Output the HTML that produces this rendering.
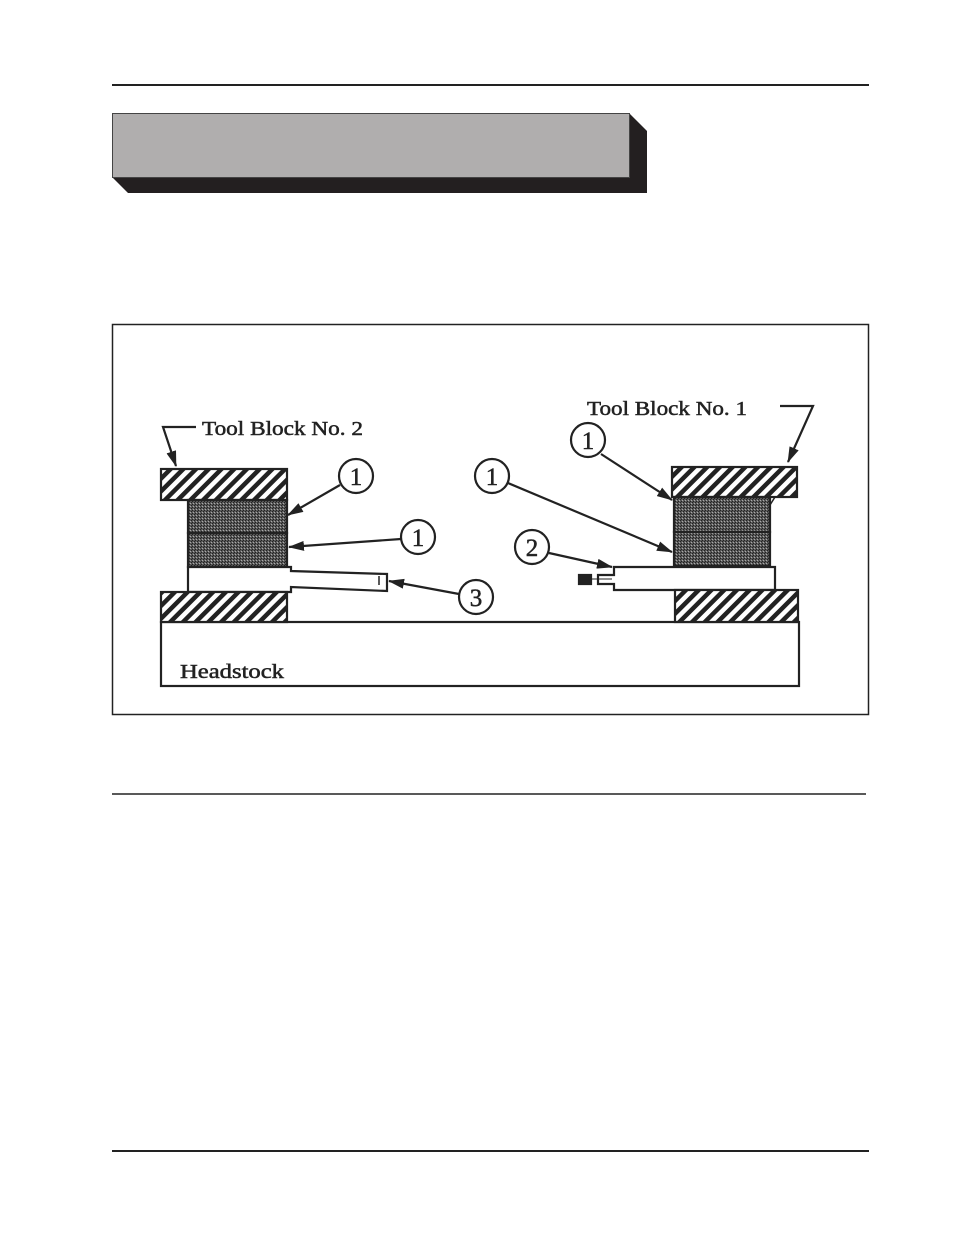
<!DOCTYPE html>
<html><head><meta charset="utf-8"><style>
html,body{margin:0;padding:0;background:#fff;}
svg{display:block;}
text{font-family:"Liberation Serif",serif;fill:#222;stroke:#222;stroke-width:0.5;}
</style></head><body>
<svg width="954" height="1235" viewBox="0 0 954 1235" xmlns="http://www.w3.org/2000/svg">
<defs>
<pattern id="h" width="9" height="9" patternUnits="userSpaceOnUse" patternTransform="rotate(45)">
<rect width="9" height="9" fill="#fff"/><rect width="4.5" height="9" fill="#222"/>
</pattern>
<pattern id="g" width="3" height="3" patternUnits="userSpaceOnUse">
<rect width="3" height="3" fill="#5a5a5a"/><rect width="1" height="1" fill="#222"/><rect x="2" y="1" width="1" height="1" fill="#222"/><rect x="1" y="2" width="1" height="1" fill="#aaa"/>
</pattern>
<marker id="a" markerWidth="16" markerHeight="10" refX="15" refY="5" orient="auto" markerUnits="userSpaceOnUse">
<path d="M0,0 L16,5 L0,10 Z" fill="#222"/>
</marker>
</defs>
<line x1="112" y1="85" x2="869" y2="85" stroke="#222" stroke-width="2"/>
<polygon points="629,113 647,131 647,193 128,193 112,177 629,177" fill="#231f20"/>
<rect x="112.5" y="113.5" width="517" height="64" fill="#b0aeae" stroke="#444" stroke-width="1"/>
<rect x="112.5" y="324.5" width="756" height="390" fill="none" stroke="#222" stroke-width="1.5"/>

<g stroke="#222" stroke-width="2.2">
<rect x="161" y="622" width="638" height="64" fill="#fff"/>
<rect x="161" y="469" width="126" height="31" fill="url(#h)"/>
<rect x="188" y="500" width="99" height="33" fill="url(#g)"/>
<rect x="188" y="533" width="99" height="34" fill="url(#g)"/>
<path d="M188,567 L291,567 L291,571 L387,574 L387,591 L291,587 L291,592 L188,592 Z" fill="#fff"/>
<line x1="379" y1="576" x2="379" y2="585" stroke-width="1.5"/>
<rect x="161" y="592" width="126" height="30" fill="url(#h)"/>
<rect x="672" y="467" width="125" height="30" fill="url(#h)"/>
<rect x="674" y="497" width="96" height="35" fill="url(#g)"/>
<rect x="674" y="532" width="96" height="34" fill="url(#g)"/>
<path d="M770,497 L775,497 L770,505" fill="none" stroke-width="1.5"/>
<path d="M614,567 L775,567 L775,590 L614,590 L614,584 L598,584 L598,575 L614,575 Z" fill="#fff"/>
<rect x="579" y="575" width="12" height="9" fill="#222"/>
<line x1="591" y1="579" x2="612" y2="579" stroke-width="1"/>
<rect x="675" y="590" width="123" height="32" fill="url(#h)"/>
</g>

<g stroke="#222" stroke-width="2.2" fill="none">
<path d="M196,427 L163,427 L176,466" marker-end="url(#a)"/>
<path d="M780,406 L813,406 L788,462" marker-end="url(#a)"/>
<line x1="340" y1="485" x2="288" y2="515" marker-end="url(#a)"/>
<line x1="401" y1="539" x2="289" y2="547" marker-end="url(#a)"/>
<line x1="459" y1="594" x2="389" y2="581" marker-end="url(#a)"/>
<line x1="508" y1="483" x2="672" y2="552" marker-end="url(#a)"/>
<line x1="601" y1="454" x2="672" y2="500" marker-end="url(#a)"/>
<line x1="549" y1="553" x2="612" y2="567" marker-end="url(#a)"/>
<circle cx="356" cy="476" r="17" fill="#fff"/>
<circle cx="418" cy="537" r="17" fill="#fff"/>
<circle cx="476" cy="597" r="17" fill="#fff"/>
<circle cx="492" cy="476" r="17" fill="#fff"/>
<circle cx="532" cy="547" r="17" fill="#fff"/>
<circle cx="588" cy="440" r="17" fill="#fff"/>
</g>
<g font-size="25" text-anchor="middle">
<text x="356" y="485">1</text>
<text x="418" y="546">1</text>
<text x="476" y="606">3</text>
<text x="492" y="485">1</text>
<text x="532" y="556">2</text>
<text x="588" y="449">1</text>
</g>
<text x="202" y="435" font-size="20" textLength="161" lengthAdjust="spacingAndGlyphs">Tool Block No. 2</text>
<text x="587" y="415" font-size="20" textLength="160" lengthAdjust="spacingAndGlyphs">Tool Block No. 1</text>
<text x="180" y="678" font-size="20" textLength="104" lengthAdjust="spacingAndGlyphs">Headstock</text>

<line x1="112" y1="794" x2="866" y2="794" stroke="#222" stroke-width="1.5"/>
<line x1="112" y1="1151" x2="869" y2="1151" stroke="#222" stroke-width="2"/>
</svg>
</body></html>
